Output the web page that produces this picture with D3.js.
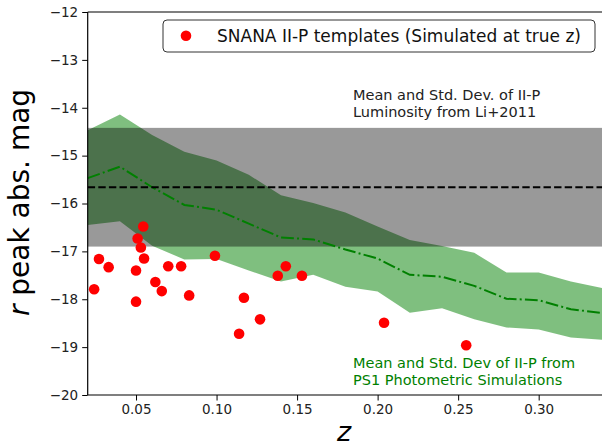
<!DOCTYPE html>
<html>
<head>
<meta charset="utf-8">
<script src="https://cdn.jsdelivr.net/npm/d3@7"></script>
<style>
  html, body { margin: 0; padding: 0; background: #fff; }
  svg { display: block; }
  text { font-family: "DejaVu Sans", sans-serif; }
</style>
</head>
<body>
<svg id="chart" width="602" height="448"></svg>
<script>
// ---- Data ----
const zBins    = [0.02, 0.04, 0.06, 0.08, 0.10, 0.12, 0.14, 0.16, 0.18, 0.20, 0.22, 0.24, 0.26, 0.28, 0.30, 0.32, 0.34];
const simMean  = [-15.47, -15.23, -15.66, -16.03, -16.13, -16.42, -16.71, -16.75, -16.96, -17.15, -17.49, -17.53, -17.72, -17.99, -18.02, -18.21, -18.29];
const simUpper = [-14.47, -14.14, -14.57, -14.92, -15.10, -15.40, -15.83, -15.99, -16.19, -16.48, -16.76, -16.89, -17.03, -17.44, -17.44, -17.63, -17.77];
const simLower = [-16.45, -16.37, -16.88, -17.17, -17.16, -17.40, -17.63, -17.49, -17.74, -17.84, -18.28, -18.19, -18.42, -18.59, -18.63, -18.80, -18.85];

const templateZ   = [0.024, 0.027, 0.033, 0.050, 0.050, 0.051, 0.053, 0.0545, 0.055, 0.062, 0.066, 0.070, 0.078, 0.083, 0.099, 0.114, 0.117, 0.127, 0.138, 0.143, 0.153, 0.204, 0.255];
const templateMag = [-17.79, -17.16, -17.33, -17.40, -18.05, -16.73, -16.92, -16.48, -17.15, -17.64, -17.83, -17.31, -17.31, -17.92, -17.09, -18.72, -17.97, -18.42, -17.51, -17.31, -17.51, -18.49, -18.96];

const liMean = -15.66;
const liStd  = 1.24;

const xTicks = [0.05, 0.10, 0.15, 0.20, 0.25, 0.30];
const yTicks = [-12, -13, -14, -15, -16, -17, -18, -19, -20];

const legendLabel = "SNANA II-P templates (Simulated at true z)";
const liNote  = ["Mean and Std. Dev. of II-P", "Luminosity from Li+2011"];
const simNote = ["Mean and Std. Dev of II-P from", "PS1 Photometric Simulations"];

// ---- Layout ----
const svg = d3.select("#chart");
const L = 87.7, T = 12, B = 395, R = 603.1;

const x = d3.scaleLinear().domain([0.02, 0.34]).range([L, R]);
const y = d3.scaleLinear().domain([-20, -12]).range([B, T]);

svg.append("defs").append("clipPath").attr("id", "plotclip")
  .append("rect").attr("x", L).attr("y", T).attr("width", R - L).attr("height", B - T);

const plot = svg.append("g").attr("clip-path", "url(#plotclip)");

const simData = zBins.map((z, i) => ({ z, m: simMean[i], lo: simLower[i], hi: simUpper[i] }));

// Simulation band
plot.append("path")
  .datum(simData)
  .attr("d", d3.area().x(d => x(d.z)).y0(d => y(d.lo)).y1(d => y(d.hi)))
  .attr("fill", "green").attr("fill-opacity", 0.5).attr("stroke", "none");

// Li+2011 band
plot.append("rect")
  .attr("x", L).attr("width", R - L)
  .attr("y", y(liMean + liStd)).attr("height", y(liMean - liStd) - y(liMean + liStd))
  .attr("fill", "black").attr("fill-opacity", 0.4);

// Simulation mean line
plot.append("path")
  .datum(simData)
  .attr("d", d3.line().x(d => x(d.z)).y(d => y(d.m)))
  .attr("fill", "none").attr("stroke", "green").attr("stroke-width", 2)
  .attr("stroke-dasharray", "12.8,3.2,2,3.2");

// Li mean dashed line
plot.append("line")
  .attr("x1", L).attr("x2", R).attr("y1", y(liMean)).attr("y2", y(liMean))
  .attr("stroke", "black").attr("stroke-width", 2).attr("stroke-dasharray", "7.4,3.2");

// Template points
plot.selectAll("circle.pt")
  .data(templateZ.map((z, i) => ({ z, m: templateMag[i] })))
  .join("circle").attr("class", "pt")
  .attr("cx", d => x(d.z)).attr("cy", d => y(d.m)).attr("r", 5.3)
  .attr("fill", "red");

// Axes
const xAxis = d3.axisBottom(x).tickValues(xTicks).tickFormat(d3.format(".2f")).tickSizeInner(5.5).tickSizeOuter(0).tickPadding(4);
const yAxis = d3.axisLeft(y).tickValues(yTicks).tickFormat(d3.format("d")).tickSizeInner(5.5).tickSizeOuter(0).tickPadding(4);

const gx = svg.append("g").attr("transform", `translate(0,${B})`).call(xAxis);
const gy = svg.append("g").attr("transform", `translate(${L},0)`).call(yAxis);
[gx, gy].forEach(g => {
  g.select(".domain").remove();
  g.selectAll(".tick line").attr("stroke", "black").attr("stroke-width", 1);
  g.selectAll(".tick text").attr("fill", "#222").style("font-size", "13.5px").style("font-family", "DejaVu Sans");
});

// Spines
svg.append("line").attr("x1", L).attr("x2", L).attr("y1", T).attr("y2", B).attr("stroke", "black").attr("stroke-width", 1.2);
svg.append("line").attr("x1", L).attr("x2", R).attr("y1", T).attr("y2", T).attr("stroke", "black").attr("stroke-width", 1.2);
svg.append("line").attr("x1", L).attr("x2", R).attr("y1", B).attr("y2", B).attr("stroke", "black").attr("stroke-width", 1.2);

// Axis labels
const yl = svg.append("text")
  .attr("transform", "translate(29,202.5) rotate(-90)")
  .attr("text-anchor", "middle")
  .style("font-size", "28px").attr("fill", "black");
yl.append("tspan").style("font-style", "italic").text("r");
yl.append("tspan").text(" peak abs. mag");

svg.append("text").attr("x", 344).attr("y", 441).attr("text-anchor", "middle")
  .style("font-size", "27px").style("font-style", "italic").text("z");

// Legend
svg.append("rect").attr("x", 163).attr("y", 20).attr("width", 432).attr("height", 32)
  .attr("rx", 4).attr("fill", "white").attr("stroke", "#333").attr("stroke-width", 1);
svg.append("circle").attr("cx", 186).attr("cy", 35.7).attr("r", 5.3).attr("fill", "red");
svg.append("text").attr("x", 217).attr("y", 41.8).style("font-size", "17px").attr("fill", "#111").text(legendLabel);

// Annotations
svg.append("text").attr("x", 353).attr("y", 100.3).style("font-size", "14.5px").attr("fill", "#222").text(liNote[0]);
svg.append("text").attr("x", 353).attr("y", 117).style("font-size", "14.5px").attr("fill", "#222").text(liNote[1]);
svg.append("text").attr("x", 353).attr("y", 368.3).style("font-size", "14.5px").attr("fill", "green").text(simNote[0]);
svg.append("text").attr("x", 353).attr("y", 385).style("font-size", "14.5px").attr("fill", "green").text(simNote[1]);
</script>
</body>
</html>
